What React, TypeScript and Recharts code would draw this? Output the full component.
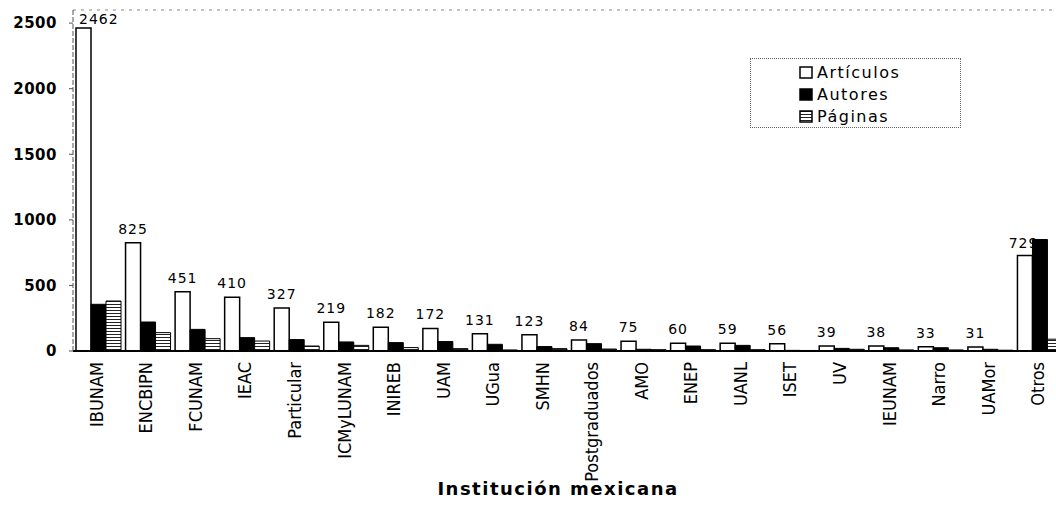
import React from "react";
import {
  BarChart,
  Bar,
  XAxis,
  YAxis,
  LabelList,
  ReferenceLine,
  Label,
} from "recharts";

const categories = [
  "IBUNAM", "ENCBIPN", "FCUNAM", "IEAC", "Particular", "ICMyLUNAM", "INIREB",
  "UAM", "UGua", "SMHN", "Postgraduados", "AMO", "ENEP", "UANL", "ISET", "UV",
  "IEUNAM", "Narro", "UAMor", "Otros",
];
const articulos = [2462, 825, 451, 410, 327, 219, 182, 172, 131, 123, 84, 75, 60, 59, 56, 39, 38, 33, 31, 729];
const autores = [356, 221, 165, 102, 87, 69, 64, 72, 51, 34, 56, 13, 38, 43, 5, 20, 25, 25, 13, 850];
const paginas = [381, 140, 94, 76, 38, 43, 26, 18, 8, 18, 15, 10, 10, 10, 4, 13, 8, 8, 6, 90];
const yTicks = [0, 500, 1000, 1500, 2000, 2500];
const seriesNames = ["Artículos", "Autores", "Páginas"];

const data = categories.map((c, i) => ({
  name: c,
  art: articulos[i],
  aut: autores[i],
  pag: paginas[i],
}));

const XTick = (props: any) => {
  const { x, y, payload } = props;
  const px = x - 1.5;
  return (
    <text
      x={px}
      y={y}
      transform={`rotate(-90 ${px} ${y})`}
      textAnchor="end"
      dominantBaseline="central"
      fontFamily="'Liberation Sans Narrow', 'Arial Narrow', 'DejaVu Sans Condensed', sans-serif"
      fontSize={18}
      fill="#000"
    >
      {payload.value}
    </text>
  );
};

const BarValueLabel = (props: any) => {
  const { x, y, width, value, index } = props;
  let tx = x + width / 2;
  let ty = y - 9;
  let anchor: "middle" | "start" | "end" = "middle";
  if (index === 0) {
    anchor = "start";
    tx = x + 3;
    ty = y - 4;
  } else if (index === categories.length - 1) {
    anchor = "end";
    tx = x + width + 6;
    ty = y - 7;
  }
  return (
    <text
      x={tx}
      y={ty}
      textAnchor={anchor}
      fontFamily="'DejaVu Sans', sans-serif"
      fontSize={14}
      letterSpacing={1}
      fill="#000"
    >
      {value}
    </text>
  );
};

const LegendBox = () => {
  const swatch = (i: number) => {
    if (i === 0) return { fill: "#fff" };
    if (i === 1) return { fill: "#000" };
    return { fill: "url(#pagHatch)" };
  };
  return (
    <div
      style={{
        position: "absolute",
        left: 750,
        top: 58,
        width: 211,
        height: 70,
        border: "1px dotted #666",
        boxSizing: "border-box",
        background: "#fff",
      }}
    >
      {seriesNames.map((n, i) => (
        <div
          key={n}
          style={{
            position: "absolute",
            left: 48,
            top: 3 + i * 22,
            height: 20,
            display: "flex",
            alignItems: "center",
          }}
        >
          <svg width={14} height={13} style={{ marginRight: 4 }}>
            <rect x={1} y={1} width={12} height={11} stroke="#000" strokeWidth={1.5} {...swatch(i)} />
          </svg>
          <span
            style={{
              fontFamily: "'DejaVu Sans', sans-serif",
              fontSize: 16,
              letterSpacing: 1.5,
              color: "#000",
            }}
          >
            {n}
          </span>
        </div>
      ))}
    </div>
  );
};

export default function App() {
  return (
    <div
      style={{
        position: "absolute",
        left: 0,
        top: 0,
        width: 1056,
        height: 507,
        overflow: "hidden",
        background: "#fff",
      }}
    >
      <svg width={0} height={0} style={{ position: "absolute" }}>
        <defs>
          <pattern id="pagHatch" patternUnits="userSpaceOnUse" width={4} height={3}>
            <rect x={0} y={0} width={4} height={3} fill="#fff" />
            <line x1={0} y1={1.5} x2={4} y2={1.5} stroke="#222" strokeWidth={1} />
          </pattern>
        </defs>
      </svg>
      <BarChart
        width={1064}
        height={507}
        data={data}
        margin={{ top: 10, right: 0, left: 0, bottom: 0 }}
        barCategoryGap={3}
        barGap={0}
      >
        <ReferenceLine y={2600} stroke="#888" strokeDasharray="3 5" />
        <XAxis
          dataKey="name"
          interval={0}
          height={156}
          tickLine={false}
          tickSize={0}
          tickMargin={11}
          axisLine={{ stroke: "#000", strokeWidth: 2 }}
          tick={<XTick />}
        >
          <Label
            content={() => (
              <text
                x={558}
                y={495}
                textAnchor="middle"
                fontFamily="'DejaVu Sans', sans-serif"
                fontWeight="bold"
                fontSize={18}
                letterSpacing={1.5}
                fill="#000"
              >
                Institución mexicana
              </text>
            )}
          />
        </XAxis>
        <YAxis
          width={73}
          domain={[0, 2600]}
          ticks={yTicks}
          interval={0}
          tickSize={4}
          tickMargin={12}
          axisLine={{ stroke: "#555", strokeDasharray: "5 2" }}
          tickLine={{ stroke: "#555" }}
          tick={{
            fontFamily: "'DejaVu Sans', sans-serif",
            fontSize: 15,
            fontWeight: "bold",
            letterSpacing: 0.5,
            fill: "#000",
          }}
        />
        <Bar dataKey="art" name="Artículos" fill="#fff" stroke="#000" strokeWidth={1.5} isAnimationActive={false}>
          <LabelList dataKey="art" content={<BarValueLabel />} />
        </Bar>
        <Bar dataKey="aut" name="Autores" fill="#000" stroke="#000" strokeWidth={1} isAnimationActive={false} />
        <Bar dataKey="pag" name="Páginas" fill="url(#pagHatch)" stroke="#000" strokeWidth={1} isAnimationActive={false} />
      </BarChart>
      <LegendBox />
    </div>
  );
}
